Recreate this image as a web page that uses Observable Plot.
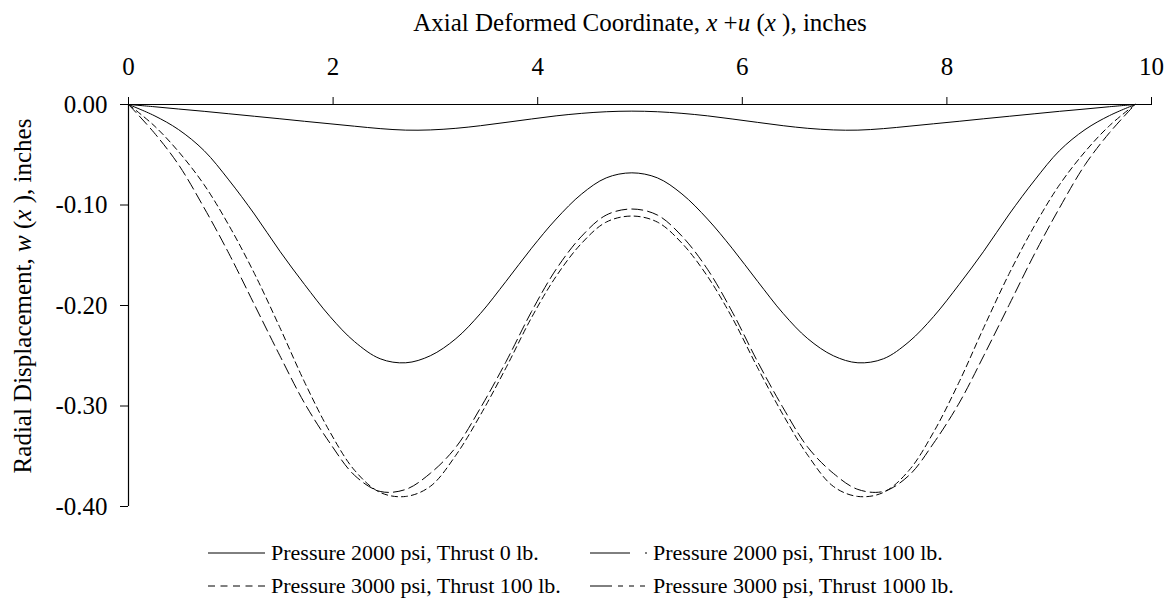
<!DOCTYPE html>
<html>
<head>
<meta charset="utf-8">
<script src="https://cdn.jsdelivr.net/npm/d3@7"></script>
<script src="https://cdn.jsdelivr.net/npm/@observablehq/plot@0.6"></script>
<style>
  html, body { margin: 0; padding: 0; background: #fff; }
  #wrap { position: relative; width: 1171px; height: 605px; font-family: "Liberation Serif", serif; color: #000; }
  #legend { position: absolute; left: 0; top: 530px; width: 1171px; height: 75px; font-size: 22px; font-family: "Liberation Serif", serif; }
  .item { position: absolute; height: 30px; display: flex; align-items: center; white-space: nowrap; }
  .item svg { margin-right: 6px; }
  svg text { font-family: "Liberation Serif", serif; }
</style>
</head>
<body>
<div id="wrap">
  <div id="chart"></div>
  <div id="legend"></div>
</div>
<script>
// Axial deformed coordinate x + u(x), inches
const xs = [0, 0.25, 0.49, 0.74, 0.98, 1.23, 1.48, 1.72, 1.97, 2.21, 2.46, 2.71, 2.95, 3.20, 3.44, 3.69, 3.94, 4.18, 4.43, 4.67, 4.92,
            5.17, 5.41, 5.66, 5.90, 6.15, 6.40, 6.64, 6.89, 7.13, 7.38, 7.63, 7.87, 8.12, 8.36, 8.61, 8.86, 9.10, 9.35, 9.59, 9.84];

// Radial displacement w(x), inches
const p2000t0 = [0, -0.0022, -0.0045, -0.0068, -0.0092, -0.0117, -0.0142, -0.0167, -0.0192, -0.0216, -0.0240, -0.0255, -0.0253, -0.0237, -0.0211, -0.0178, -0.0144, -0.0113, -0.0088, -0.0072, -0.0066,
                 -0.0072, -0.0088, -0.0113, -0.0144, -0.0178, -0.0211, -0.0237, -0.0253, -0.0255, -0.0240, -0.0216, -0.0192, -0.0167, -0.0142, -0.0117, -0.0092, -0.0068, -0.0045, -0.0022, 0];
const p2000t100 = [0, -0.011, -0.025, -0.046, -0.075, -0.109, -0.146, -0.179, -0.211, -0.236, -0.253, -0.257, -0.250, -0.233, -0.208, -0.176, -0.143, -0.114, -0.089, -0.073, -0.068,
                   -0.073, -0.089, -0.114, -0.143, -0.176, -0.208, -0.233, -0.250, -0.257, -0.253, -0.236, -0.211, -0.179, -0.146, -0.109, -0.075, -0.046, -0.025, -0.011, 0];
const p3000t100 = [0, -0.021, -0.047, -0.080, -0.120, -0.168, -0.222, -0.276, -0.326, -0.364, -0.386, -0.390, -0.380, -0.349, -0.309, -0.262, -0.212, -0.171, -0.138, -0.117, -0.111,
                   -0.117, -0.138, -0.171, -0.212, -0.262, -0.309, -0.349, -0.380, -0.390, -0.386, -0.364, -0.326, -0.276, -0.222, -0.168, -0.120, -0.080, -0.047, -0.021, 0];
const p3000t1000 = [0, -0.028, -0.060, -0.103, -0.148, -0.199, -0.250, -0.297, -0.337, -0.369, -0.385, -0.383, -0.367, -0.341, -0.302, -0.256, -0.206, -0.164, -0.131, -0.110, -0.104,
                    -0.110, -0.131, -0.164, -0.206, -0.256, -0.302, -0.341, -0.367, -0.383, -0.385, -0.369, -0.337, -0.297, -0.250, -0.199, -0.148, -0.103, -0.060, -0.028, 0];

const seriesNames = ["Pressure 2000 psi, Thrust 0 lb.", "Pressure 2000 psi, Thrust 100 lb.",
                     "Pressure 3000 psi, Thrust 100 lb.", "Pressure 3000 psi, Thrust 1000 lb."];
const xTicks = [0, 2, 4, 6, 8, 10];
const yTicks = [0, -0.1, -0.2, -0.3, -0.4];

const toRows = (vals) => xs.map((x, i) => ({x, y: vals[i]}));
const FONT = "Liberation Serif, serif";

const chart = Plot.plot({
  width: 1171,
  height: 525,
  marginLeft: 128,
  marginRight: 20,
  marginTop: 104,
  marginBottom: 19,
  style: {fontFamily: FONT, fontSize: "25px", color: "#000", background: "#fff", overflow: "visible"},
  x: {domain: [0, 10]},
  y: {domain: [-0.4, 0]},
  marks: [
    Plot.ruleY([0], {stroke: "#000", strokeWidth: 1.2}),
    Plot.ruleX([0], {y1: -0.4, y2: 0, stroke: "#000", strokeWidth: 1.2}),
    Plot.axisX({anchor: "top", ticks: xTicks, tickSize: 8, tickPadding: 22, label: null, tickFormat: d => String(d), fontSize: 25, fontFamily: FONT}),
    Plot.axisY({anchor: "left", ticks: yTicks, tickSize: 8, tickPadding: 13, label: null, tickFormat: d => d.toFixed(2), fontSize: 25, fontFamily: FONT}),
    Plot.line(toRows(p2000t0), {x: "x", y: "y", stroke: "#000", strokeWidth: 1.0, curve: "catmull-rom"}),
    Plot.line(toRows(p2000t100), {x: "x", y: "y", stroke: "#000", strokeWidth: 1.0, curve: "catmull-rom"}),
    Plot.line(toRows(p3000t100), {x: "x", y: "y", stroke: "#000", strokeWidth: 1.0, strokeDasharray: "6,4", curve: "catmull-rom"}),
    Plot.line(toRows(p3000t1000), {x: "x", y: "y", stroke: "#000", strokeWidth: 1.0, strokeDasharray: "11,5", curve: "catmull-rom"})
  ]
});
document.getElementById("chart").appendChild(chart);

function richText(sel, parts) {
  parts.forEach(([t, it]) => {
    const ts = sel.append("tspan").text(t);
    if (it) ts.attr("font-style", "italic");
  });
}
const svg = d3.select(chart);
const title = svg.append("text").attr("x", 640).attr("y", 31).attr("text-anchor", "middle")
  .attr("font-size", 25).attr("font-family", FONT).attr("fill", "#000");
richText(title, [["Axial Deformed Coordinate, ", false], ["x", true], [" +", false], ["u", true], [" (", false], ["x", true], [" ), inches", false]]);

const ylab = svg.append("text").attr("transform", "translate(31,296) rotate(-90)").attr("text-anchor", "middle")
  .attr("font-size", 25).attr("font-family", FONT).attr("fill", "#000");
richText(ylab, [["Radial Displacement, ", false], ["w", true], [" (", false], ["x", true], [" ), inches", false]]);

// Legend
const legendItems = [
  {name: seriesNames[0], left: 208, top: 8, dash: null},
  {name: seriesNames[1], left: 590, top: 8, dash: "40,15,2,100"},
  {name: seriesNames[2], left: 208, top: 41, dash: "7,5.5"},
  {name: seriesNames[3], left: 590, top: 41, dash: "22,6,5,6,5,6,5,100"}
];
const legend = d3.select("#legend");
legendItems.forEach(it => {
  const div = legend.append("div").attr("class", "item").style("left", it.left + "px").style("top", it.top + "px");
  const s = div.append("svg").attr("width", 57).attr("height", 10);
  const ln = s.append("line").attr("x1", 0).attr("x2", 57).attr("y1", 5).attr("y2", 5)
    .attr("stroke", "#000").attr("stroke-width", 1.0);
  if (it.dash) ln.attr("stroke-dasharray", it.dash);
  div.append("span").text(it.name);
});
</script>
</body>
</html>
